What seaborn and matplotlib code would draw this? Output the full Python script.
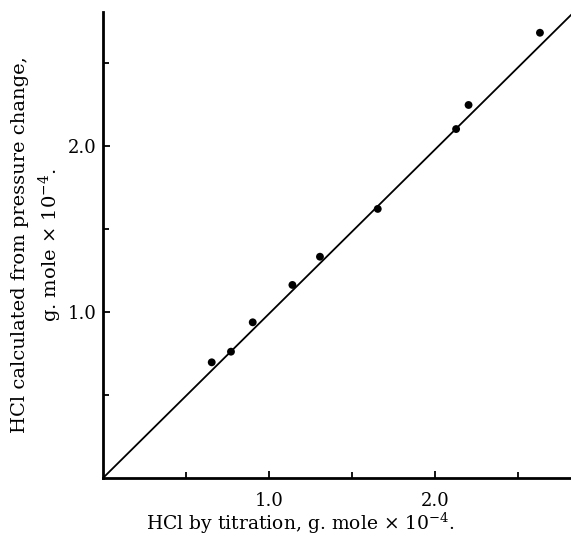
import matplotlib
matplotlib.use("Agg")
import matplotlib.pyplot as plt
import seaborn as sns
import pandas as pd

# Data
titration = [0.653, 0.769, 0.900, 1.139, 1.305, 1.653, 2.125, 2.200, 2.630]
pressure = [0.695, 0.759, 0.936, 1.161, 1.331, 1.619, 2.100, 2.245, 2.680]
line_x = [0.0, 2.82]
line_y = [0.0, 2.79]
major_ticks = [1.0, 2.0]
major_labels = ["1.0", "2.0"]
minor_ticks = [0.5, 1.5, 2.5]

sns.set_theme(style="ticks")
plt.rcParams['font.family'] = ['DejaVu Serif']
plt.rcParams['mathtext.fontset'] = 'dejavuserif'

W, H = 571, 538
fig = plt.figure(figsize=(W / 100, H / 100), dpi=100)
x0, x1 = 103.3, 571.0
y0, y1 = 477.7, 12.0
ax = fig.add_axes([x0 / W, 1 - y0 / H, (x1 - x0) / W, (y0 - y1) / H])

pts = pd.DataFrame({"titration": titration, "pressure": pressure})
fit = pd.DataFrame({"x": line_x, "y": line_y})

sns.lineplot(data=fit, x="x", y="y", color="black", linewidth=1.3, ax=ax)
sns.scatterplot(data=pts, x="titration", y="pressure", color="black", s=32,
                edgecolor="none", ax=ax, zorder=3)

ax.set_xlim(0, 2.817)
ax.set_ylim(0, 2.805)

ax.set_xticks(major_ticks)
ax.set_xticklabels(major_labels)
ax.set_xticks(minor_ticks, minor=True)
ax.set_yticks(major_ticks)
ax.set_yticklabels(major_labels)
ax.set_yticks(minor_ticks, minor=True)

ax.tick_params(axis="both", which="both", direction="in", width=1.3,
               colors="black", labelsize=13)
ax.tick_params(axis="both", which="major", length=5)
ax.tick_params(axis="both", which="minor", length=4)
ax.tick_params(axis="x", which="major", pad=10)
ax.tick_params(axis="y", which="major", pad=5)

for side in ["top", "right"]:
    ax.spines[side].set_visible(False)
for side in ["left", "bottom"]:
    ax.spines[side].set_linewidth(2.0)
    ax.spines[side].set_color("black")

ax.set_xlabel("HCl by titration, g. mole \u00d7 10$^{-4}$.", fontsize=13.5, color="black")
ax.set_ylabel("HCl calculated from pressure change,\ng. mole \u00d7 10$^{-4}$.",
              fontsize=14, color="black", linespacing=1.4)
ax.xaxis.set_label_coords(0.4206, -0.071)
ax.yaxis.set_label_coords(-0.084, 0.5)

fig.savefig("out.png", dpi=100)
